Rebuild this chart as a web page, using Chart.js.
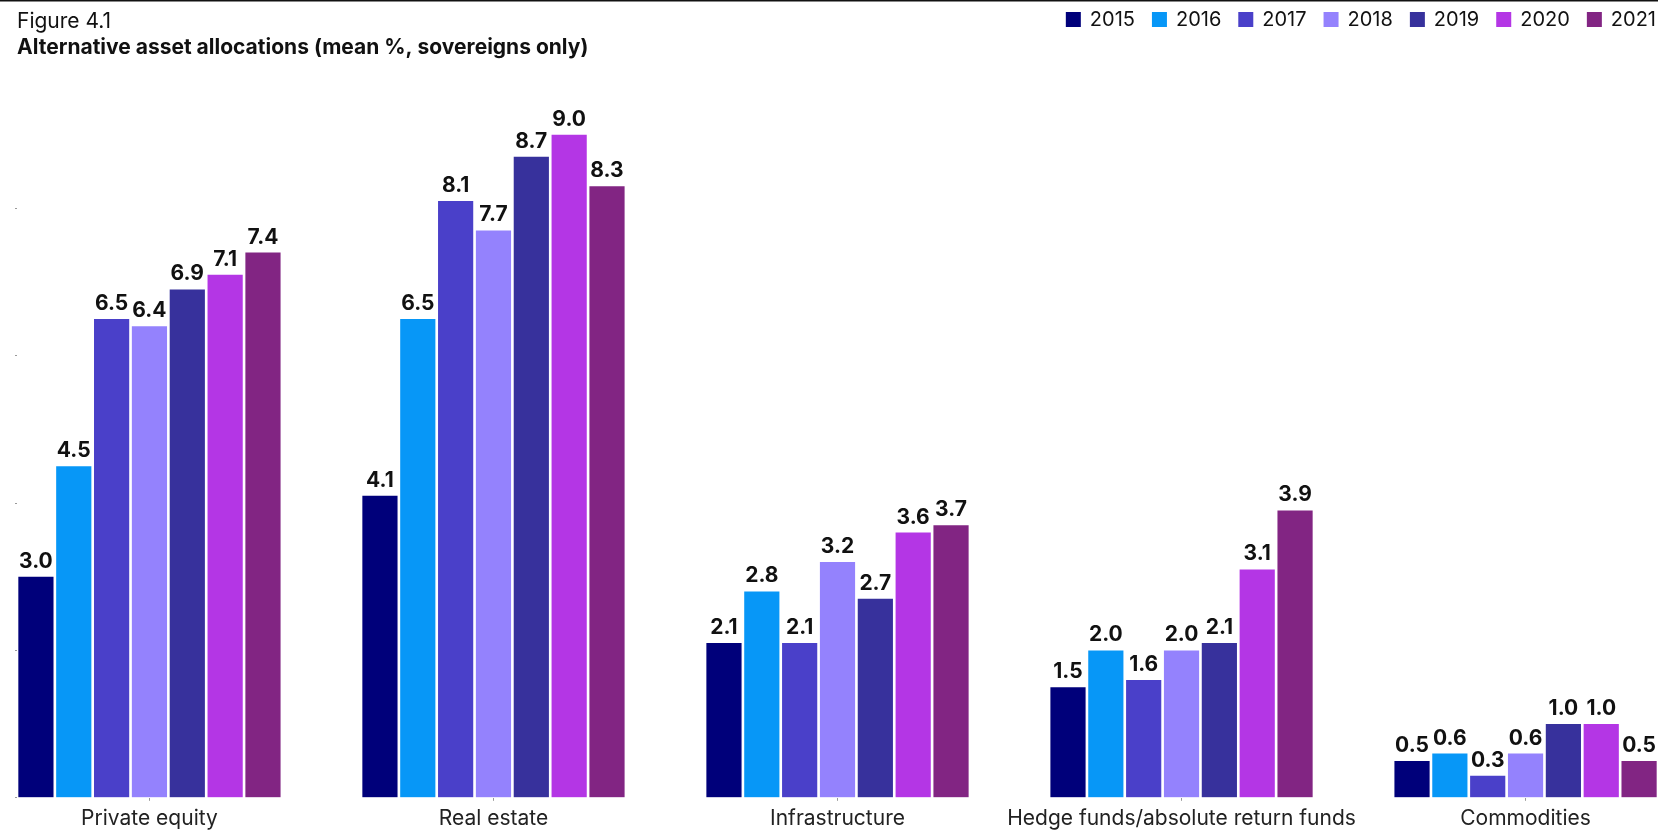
<!DOCTYPE html>
<html>
<head>
<meta charset="utf-8">
<script src="https://cdn.jsdelivr.net/npm/chart.js@4/dist/chart.umd.min.js"></script>
<style>
  html, body { margin: 0; padding: 0; background: #fff; overflow: hidden; }
  #wrap { position: relative; width: 1676px; height: 831px; }
</style>
</head>
<body>
<div id="wrap"><canvas id="myChart"></canvas></div>
<script>
var categories = ["Private equity", "Real estate", "Infrastructure", "Hedge funds/absolute return funds", "Commodities"];
var years = ["2015", "2016", "2017", "2018", "2019", "2020", "2021"];
var yearColors = ["#00007a", "#0797f7", "#4a40c9", "#9482fd", "#37319c", "#b436e5", "#822583"];

var values2015 = [3.0, 4.1, 2.1, 1.5, 0.5];
var values2016 = [4.5, 6.5, 2.8, 2.0, 0.6];
var values2017 = [6.5, 8.1, 2.1, 1.6, 0.3];
var values2018 = [6.4, 7.7, 3.2, 2.0, 0.6];
var values2019 = [6.9, 8.7, 2.7, 2.1, 1.0];
var values2020 = [7.1, 9.0, 3.6, 3.1, 1.0];
var values2021 = [7.4, 8.3, 3.7, 3.9, 0.5];
var allValues = [values2015, values2016, values2017, values2018, values2019, values2020, values2021];

var yTicks = [0, 2, 4, 6, 8];

var fontName = "Inter, 'Noto Sans', sans-serif";
var inkColor = "#111111";

Chart.defaults.font.family = fontName;
Chart.defaults.color = inkColor;

// datasets: one per year, x = index of the category
var datasets = years.map(function (year, i) {
    return {
        label: year,
        backgroundColor: yearColors[i],
        borderWidth: 0,
        data: allValues[i].map(function (v, c) { return { x: c, y: v }; }),
        categoryPercentage: 0.77,
        barPercentage: 0.93
    };
});

// figure number, title, legend and rule at the top
var headerPlugin = {
    id: "header",
    afterDraw: function (chart) {
        var ctx = chart.ctx;
        ctx.save();
        ctx.fillStyle = "#111";
        ctx.fillRect(0, 0, 1658, 1.5);

        ctx.textAlign = "left";
        ctx.textBaseline = "alphabetic";
        ctx.fillStyle = inkColor;
        ctx.font = "400 21px " + fontName;
        ctx.fillText("Figure 4.1", 17, 28);
        ctx.font = "700 21px " + fontName;
        ctx.fillText("Alternative asset allocations (mean %, sovereigns only)", 17, 54);

        // legend, right aligned
        ctx.font = "400 20px " + fontName;
        var x = 1656;
        for (var i = chart.data.datasets.length - 1; i >= 0; i--) {
            var ds = chart.data.datasets[i];
            var w = ctx.measureText(ds.label).width;
            x -= w;
            ctx.fillStyle = inkColor;
            ctx.fillText(ds.label, x, 26);
            x -= 9 + 15;
            ctx.fillStyle = ds.backgroundColor;
            ctx.fillRect(x, 12, 15, 15);
            x -= 17;
        }
        ctx.restore();
    }
};

// value labels above the bars
var valueLabels = {
    id: "valueLabels",
    afterDatasetsDraw: function (chart) {
        var ctx = chart.ctx;
        ctx.save();
        ctx.font = "700 21px " + fontName;
        ctx.fillStyle = inkColor;
        ctx.textAlign = "center";
        ctx.textBaseline = "alphabetic";
        chart.data.datasets.forEach(function (ds, i) {
            chart.getDatasetMeta(i).data.forEach(function (bar, j) {
                ctx.fillText(ds.data[j].y.toFixed(1), bar.x, bar.y - 9);
            });
        });
        ctx.restore();
    }
};

new Chart("myChart", {
    type: "bar",
    data: { datasets: datasets },
    options: {
        responsive: true,
        maintainAspectRatio: false,
        animation: false,
        layout: { padding: { top: 61, left: 15, right: 18, bottom: -5 } },
        plugins: {
            legend: { display: false },
            title: { display: false },
            tooltip: { enabled: false }
        },
        scales: {
            x: {
                type: "linear",
                offset: false,
                min: -0.385,
                max: 4.385,
                afterBuildTicks: function (axis) {
                    axis.ticks = categories.map(function (c, i) { return { value: i }; });
                },
                ticks: {
                    autoSkip: false,
                    maxRotation: 0,
                    padding: 5,
                    color: "#222",
                    font: { size: 21 },
                    callback: function (v) { return categories[v]; }
                },
                grid: { offset: false, drawOnChartArea: false, tickLength: 3, color: "#999" },
                border: { display: false }
            },
            y: {
                min: 0,
                max: 10,
                afterBuildTicks: function (axis) {
                    axis.ticks = yTicks.map(function (v) { return { value: v }; });
                },
                ticks: { display: false },
                grid: { drawOnChartArea: false, tickLength: 2, color: "#999" },
                border: { display: false }
            }
        }
    },
    plugins: [headerPlugin, valueLabels]
});
</script>
</body>
</html>
